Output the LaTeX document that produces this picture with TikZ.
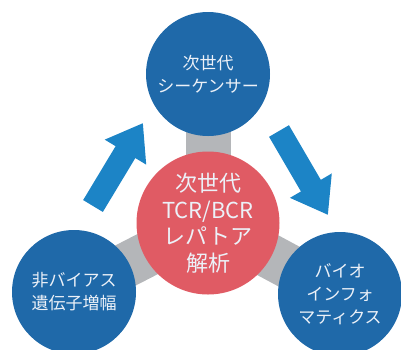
\documentclass[tikz,border=0pt]{standalone}
\usepackage{fontspec}
\setmainfont{Noto Sans CJK JP}
\usepackage{tikz}
\usetikzlibrary{arrows.meta,backgrounds}

\definecolor{hubblue}{RGB}{31,105,169}
\definecolor{flowblue}{RGB}{28,132,198}
\definecolor{corered}{RGB}{224,91,100}
\definecolor{linkgray}{RGB}{180,182,185}
\definecolor{softwhite}{RGB}{236,241,248}

\begin{document}
\begin{tikzpicture}[x=1pt, y=-1pt,
    hub/.style={circle, fill=hubblue, text=softwhite, align=center,
                minimum size=124pt, inner sep=0pt,
                font=\fontsize{17}{23}\selectfont},
    core/.style={circle, fill=corered, text=softwhite, align=center,
                 minimum size=143pt, inner sep=0pt,
                 font=\fontsize{22}{26.5}\selectfont},
    link/.style={draw=linkgray, line width=45pt},
    flow/.style={draw=flowblue, line width=23pt,
                 -{Triangle[length=34pt, width=46pt]}}]
\useasboundingbox (0,0) rectangle (401,349);

% ===== Centre =====
\node[core] (repertoire) at (208,223) {次世代\\TCR/BCR\\レパトア\\解析};

% ===== Outer steps =====
\node[hub] (sequencer) at (208,74) {次世代\\シーケンサー};
\node[hub] (amplify) at (74,292) {非バイアス\\遺伝子増幅};
\node[hub] (bioinfo) at (340,294) {バイオ\\インフォ\\マティクス};

% Gray spokes behind the circles
\begin{scope}[on background layer]
  \draw[link] (repertoire.center) -- (sequencer.center);
  \draw[link] (repertoire.center) -- (amplify.center);
  \draw[link] (repertoire.center) -- (bioinfo.center);
\end{scope}

% Cycle arrows
\coordinate (upfrom) at (93,206);
\coordinate (upto) at (143,123);
\coordinate (downfrom) at (279,131);
\coordinate (downto) at (328,215);
\draw[flow] (upfrom) -- (upto);
\draw[flow] (downfrom) -- (downto);

\end{tikzpicture}
\end{document}
